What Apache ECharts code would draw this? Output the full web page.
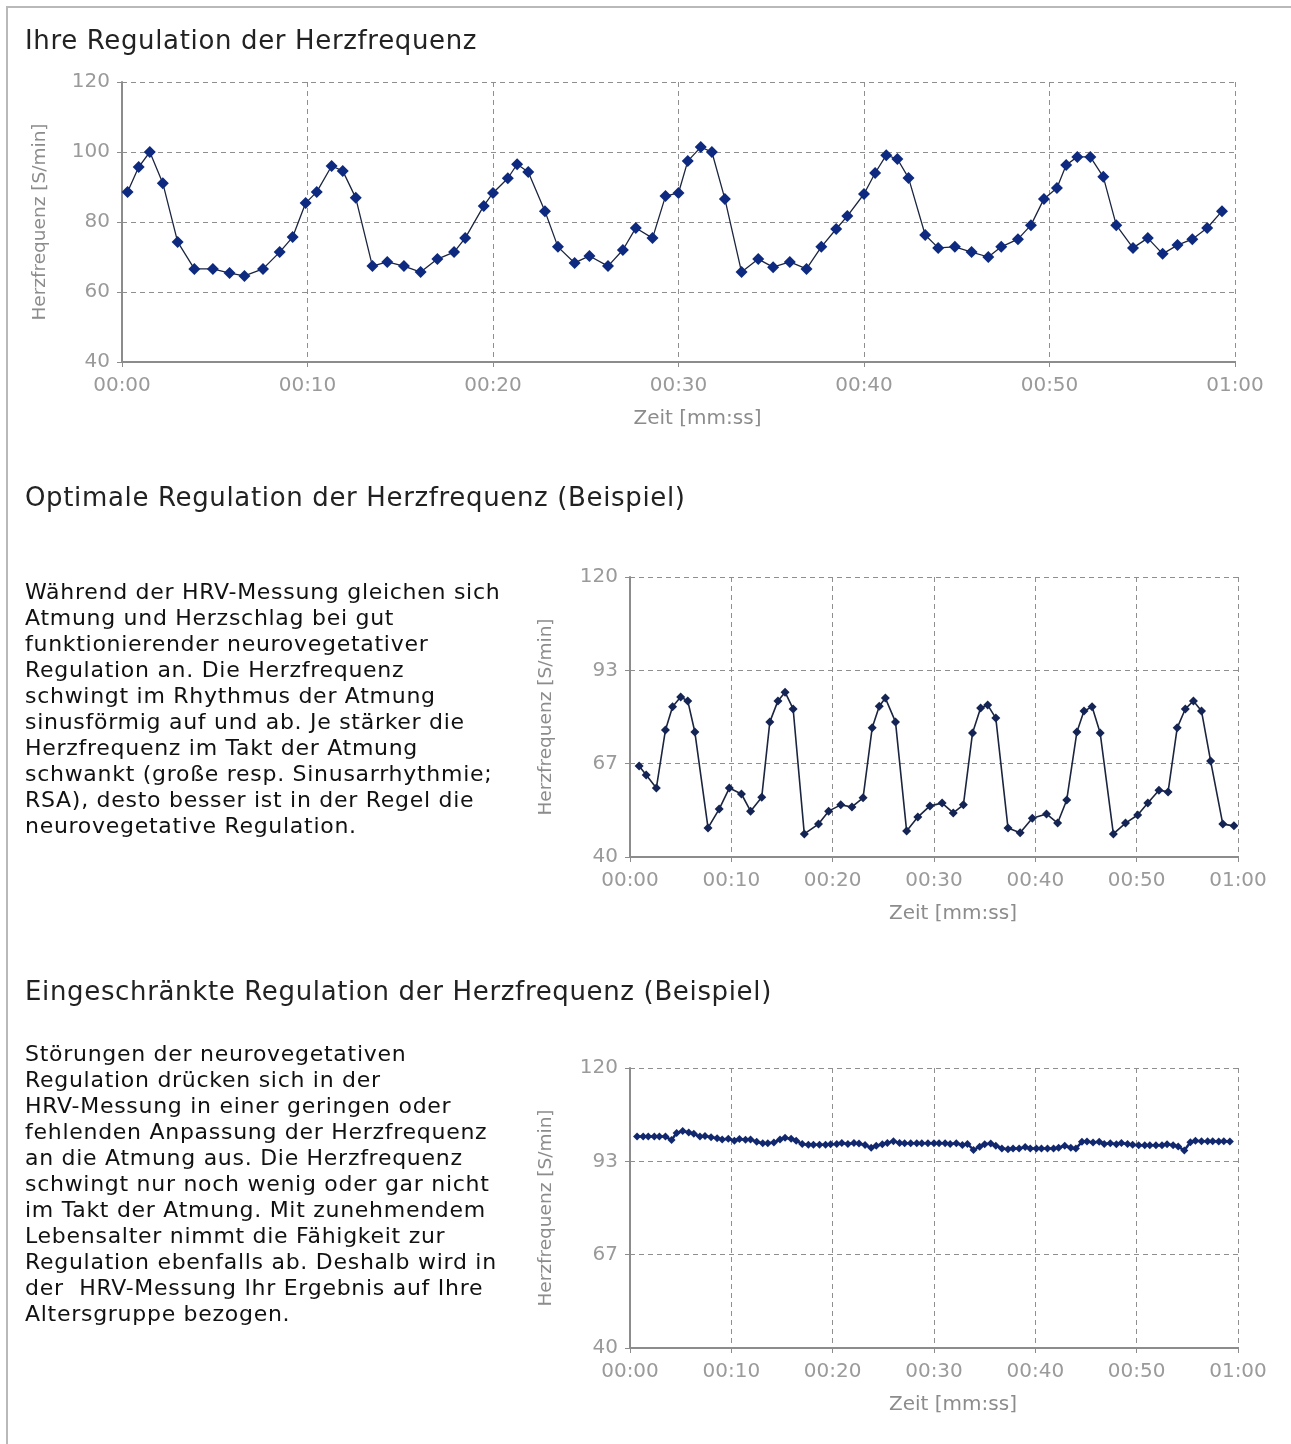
<!DOCTYPE html>
<html>
<head>
<meta charset="utf-8">
<script src="https://cdn.jsdelivr.net/npm/echarts@6/dist/echarts.min.js"></script>
<style>
  html, body { margin: 0; padding: 0; background: #fff; }
  body { width: 1291px; height: 1444px; position: relative; overflow: hidden; font-family: "DejaVu Sans", Verdana, sans-serif; }
  #frame { position: absolute; left: 6px; top: 6px; width: 1290px; height: 1450px; border-left: 2px solid #b9b9b9; border-top: 2px solid #b9b9b9; }
  #chart { position: absolute; left: 0; top: 0; width: 1291px; height: 1444px; }
  .h { position: absolute; left: 25px; font-size: 26px; letter-spacing: 0.65px; color: #222; white-space: pre; line-height: 30px; }
  .p { position: absolute; left: 25px; font-size: 22px; letter-spacing: 0.72px; color: #111; white-space: pre; line-height: 26px; }
</style>
</head>
<body>
<div id="frame"></div>
<div id="chart"></div>
<div class="h" style="top:25px">Ihre Regulation der Herzfrequenz</div>
<div class="h" style="top:482px">Optimale Regulation der Herzfrequenz (Beispiel)</div>
<div class="h" style="top:976px">Eingeschränkte Regulation der Herzfrequenz (Beispiel)</div>
<div class="p" style="top:579px">Während der HRV-Messung gleichen sich
Atmung und Herzschlag bei gut
funktionierender neurovegetativer
Regulation an. Die Herzfrequenz
schwingt im Rhythmus der Atmung
sinusförmig auf und ab. Je stärker die
Herzfrequenz im Takt der Atmung
schwankt (große resp. Sinusarrhythmie;
RSA), desto besser ist in der Regel die
neurovegetative Regulation.</div>
<div class="p" style="top:1041px">Störungen der neurovegetativen
Regulation drücken sich in der
HRV-Messung in einer geringen oder
fehlenden Anpassung der Herzfrequenz
an die Atmung aus. Die Herzfrequenz
schwingt nur noch wenig oder gar nicht
im Takt der Atmung. Mit zunehmendem
Lebensalter nimmt die Fähigkeit zur
Regulation ebenfalls ab. Deshalb wird in
der  HRV-Messung Ihr Ergebnis auf Ihre
Altersgruppe bezogen.</div>
<script>
// ---- data ----
const xTicks = [0, 10, 20, 30, 40, 50, 60];           // seconds
const yTicksTop = [40, 60, 80, 100, 120];
const yTicksExample = [40, 66.667, 93.333, 120];      // labelled 40, 67, 93, 120

// Ihre Regulation der Herzfrequenz
const ownTime = [0.3, 0.9, 1.5, 2.2, 3.0, 3.9, 4.9, 5.8, 6.6, 7.6, 8.5, 9.2, 9.9, 10.5, 11.3, 11.9, 12.6,
  13.5, 14.3, 15.2, 16.1, 17.0, 17.9, 18.5, 19.5, 20.0, 20.8, 21.3, 21.9, 22.8, 23.5, 24.4, 25.2, 26.2,
  27.0, 27.7, 28.6, 29.3, 30.0, 30.5, 31.2, 31.8, 32.5, 33.4, 34.3, 35.1, 36.0, 36.9, 37.7, 38.5, 39.1,
  40.0, 40.6, 41.2, 41.8, 42.4, 43.3, 44.0, 44.9, 45.8, 46.7, 47.4, 48.3, 49.0, 49.7, 50.4, 50.9, 51.5,
  52.2, 52.9, 53.6, 54.5, 55.3, 56.1, 56.9, 57.7, 58.5, 59.3];
const ownHR = [88.6, 95.7, 100.0, 91.1, 74.3, 66.6, 66.6, 65.4, 64.6, 66.6, 71.4, 75.7, 85.4, 88.6, 96.0, 94.6, 86.9,
  67.4, 68.6, 67.4, 65.7, 69.4, 71.4, 75.4, 84.6, 88.3, 92.5, 96.5, 94.3, 83.1, 72.9, 68.3, 70.3, 67.4,
  72.0, 78.3, 75.4, 87.4, 88.3, 97.4, 101.4, 100.0, 86.6, 65.7, 69.4, 67.1, 68.6, 66.6, 72.9, 78.0, 81.7,
  88.0, 94.0, 99.1, 98.0, 92.6, 76.3, 72.6, 72.9, 71.4, 70.0, 72.9, 75.1, 79.1, 86.6, 89.7, 96.3, 98.6,
  98.6, 92.9, 79.1, 72.6, 75.4, 70.9, 73.4, 75.1, 78.3, 83.1];

// Optimale Regulation (Beispiel)
const optTime = [0.9, 1.6, 2.6, 3.5, 4.2, 5.0, 5.7, 6.4, 7.7, 8.8, 9.8, 11.0, 11.9, 13.0, 13.8, 14.6, 15.3,
  16.1, 17.2, 18.6, 19.6, 20.8, 21.9, 23.0, 23.9, 24.6, 25.2, 26.2, 27.3, 28.4, 29.6, 30.8, 31.9, 32.9,
  33.8, 34.6, 35.3, 36.1, 37.3, 38.5, 39.7, 41.1, 42.2, 43.1, 44.1, 44.8, 45.6, 46.4, 47.7, 48.9, 50.1,
  51.1, 52.2, 53.1, 54.0, 54.8, 55.6, 56.4, 57.3, 58.5, 59.6];
const optHR = [66.0, 63.4, 59.7, 76.3, 82.9, 85.7, 84.6, 75.7, 48.3, 53.7, 59.7, 58.0, 53.1, 57.1, 78.6, 84.6, 87.1,
  82.3, 46.6, 49.4, 53.1, 54.9, 54.3, 56.9, 76.9, 83.1, 85.4, 78.6, 47.4, 51.4, 54.6, 55.4, 52.6, 54.9,
  75.4, 82.6, 83.4, 79.7, 48.3, 46.9, 51.1, 52.3, 49.7, 56.3, 75.7, 81.7, 82.9, 75.4, 46.6, 49.7, 52.0,
  55.4, 59.1, 58.6, 76.9, 82.3, 84.6, 81.7, 67.4, 49.4, 48.9];

// Eingeschränkte Regulation (Beispiel)
const limTime = [0.7, 1.3, 1.8, 2.4, 2.9, 3.5, 4.1, 4.6, 5.2, 5.8, 6.3, 6.9, 7.4, 8.0, 8.6, 9.1, 9.7, 10.3,
  10.8, 11.4, 11.9, 12.5, 13.1, 13.6, 14.2, 14.8, 15.3, 15.9, 16.4, 17.0, 17.6, 18.1, 18.7, 19.3, 19.8,
  20.4, 20.9, 21.5, 22.1, 22.6, 23.2, 23.8, 24.3, 24.9, 25.4, 26.0, 26.6, 27.1, 27.7, 28.3, 28.8, 29.4,
  30.0, 30.5, 31.1, 31.6, 32.2, 32.8, 33.3, 33.9, 34.5, 35.0, 35.6, 36.1, 36.7, 37.3, 37.8, 38.4, 39.0,
  39.5, 40.1, 40.6, 41.2, 41.8, 42.3, 42.9, 43.5, 44.0, 44.6, 45.1, 45.7, 46.3, 46.8, 47.4, 48.0, 48.5,
  49.1, 49.6, 50.2, 50.8, 51.3, 51.9, 52.5, 53.0, 53.6, 54.1, 54.7, 55.3, 55.8, 56.4, 57.0, 57.5, 58.1,
  58.6, 59.2];
const limHR = [100.4, 100.4, 100.4, 100.4, 100.4, 100.4, 99.4, 101.4, 102.0, 101.6, 101.2, 100.4, 100.6, 100.2,
  99.9, 99.6, 99.8, 99.2, 99.7, 99.5, 99.6, 98.9, 98.5, 98.5, 98.7, 99.6, 100.1, 99.8, 99.2, 98.3, 98.1,
  98.1, 98.1, 98.1, 98.2, 98.3, 98.6, 98.3, 98.6, 98.4, 98.0, 97.2, 97.8, 98.2, 98.6, 99.1, 98.6, 98.5,
  98.5, 98.5, 98.5, 98.5, 98.5, 98.5, 98.5, 98.3, 98.5, 98.0, 98.3, 96.6, 97.5, 98.2, 98.4, 97.8, 97.0,
  96.8, 97.0, 97.0, 97.4, 97.0, 97.0, 97.0, 97.0, 97.0, 97.2, 97.8, 97.2, 97.0, 98.9, 99.0, 98.7, 98.9,
  98.3, 98.5, 98.2, 98.6, 98.3, 98.1, 97.9, 97.9, 97.9, 97.9, 97.9, 98.2, 97.9, 97.6, 96.4, 98.8, 99.2,
  99.1, 99.1, 99.1, 99.0, 99.1, 99.0];

const xName = 'Zeit [mm:ss]';
const yName = 'Herzfrequenz [S/min]';

// ---- chart ----
const FONT = 'DejaVu Sans';
const pair = (t, v) => t.map((x, i) => [x, v[i]]);
const fmtTime = v => {
  const m = Math.floor(v / 60), s = Math.round(v % 60);
  return String(m).padStart(2, '0') + ':' + String(s).padStart(2, '0');
};
const grids = [
  { left: 122, top: 82, width: 1113, height: 280 },
  { left: 630, top: 577, width: 608, height: 280 },
  { left: 630, top: 1068, width: 608, height: 280 }
];
const dash = { color: '#8f8f8f', width: 1, type: [5, 4] };
function xAxis(i) {
  return {
    gridIndex: i, type: 'value', min: xTicks[0], max: xTicks[xTicks.length - 1], interval: xTicks[1] - xTicks[0],
    name: xName, nameLocation: 'middle', nameGap: 47,
    nameTextStyle: { fontFamily: FONT, fontSize: 20, color: '#8c8c8c', padding: [0, 0, 0, 38] },
    axisLine: { lineStyle: { color: '#8c8c8c', width: 2 } },
    axisTick: { show: true, length: 5, lineStyle: { color: '#8c8c8c', width: 1 } },
    axisLabel: { formatter: fmtTime, fontFamily: FONT, fontSize: 20, color: '#9a9a9a', margin: 14, showMinLabel: true, showMaxLabel: true },
    splitLine: { show: true, lineStyle: dash }
  };
}
function yAxis(i, ticks) {
  const base = {
    gridIndex: i, type: 'value', min: ticks[0], max: ticks[ticks.length - 1],
    name: yName, nameLocation: 'middle', nameGap: i === 0 ? 72 : 74, nameRotate: 90,
    nameTextStyle: { fontFamily: FONT, fontSize: 18.5, color: '#8c8c8c' },
    axisLine: { show: true, lineStyle: { color: '#8c8c8c', width: 2 } },
    axisTick: { show: true, length: 5, lineStyle: { color: '#8c8c8c', width: 1 } },
    axisLabel: { fontFamily: FONT, fontSize: 20, color: '#9a9a9a', margin: 12, formatter: v => String(Math.round(v)) },
    splitLine: { show: true, lineStyle: dash }
  };
  if (i === 0) {
    base.interval = ticks[1] - ticks[0];
  } else {
    base.axisTick.customValues = ticks;
    base.axisLabel.customValues = ticks;
  }
  return base;
}
const chart = echarts.init(document.getElementById('chart'), null, { renderer: 'canvas' });
chart.setOption({
  animation: false,
  backgroundColor: 'transparent',
  grid: grids,
  xAxis: [xAxis(0), xAxis(1), xAxis(2)],
  yAxis: [yAxis(0, yTicksTop), yAxis(1, yTicksExample), yAxis(2, yTicksExample)],
  series: [
    { type: 'line', xAxisIndex: 0, yAxisIndex: 0, data: pair(ownTime, ownHR), symbol: 'diamond', symbolSize: 12,
      itemStyle: { color: '#0d2a80' }, lineStyle: { color: '#1b2540', width: 1.3 } },
    { type: 'line', xAxisIndex: 1, yAxisIndex: 1, data: pair(optTime, optHR), symbol: 'diamond', symbolSize: 9,
      itemStyle: { color: '#142454' }, lineStyle: { color: '#1b2540', width: 1.6 } },
    { type: 'line', xAxisIndex: 2, yAxisIndex: 2, data: pair(limTime, limHR), symbol: 'diamond', symbolSize: 8,
      itemStyle: { color: '#12286e' }, lineStyle: { color: '#12286e', width: 2.5 } }
  ]
});
</script>
</body>
</html>
